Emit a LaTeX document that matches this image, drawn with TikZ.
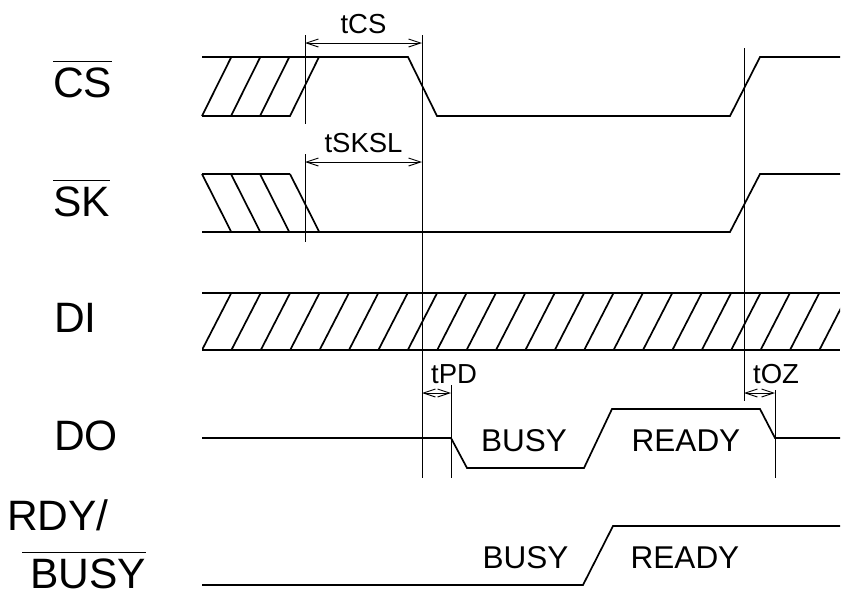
\documentclass[tikz,border=0pt]{standalone}
\usepackage{fontspec}
\setmainfont{Liberation Sans}
\usetikzlibrary{arrows.meta}
\newcommand{\olbar}[2][0pt]{$\overline{\mbox{\hspace{#1}\rule{0pt}{0.8em}#2}}$}
\tikzset{
  sig/.style={line width=1.7pt},
  guide/.style={line width=0.9pt},
  dim/.style={guide, {Straight Barb[length=12pt,width=8pt]}-{Straight Barb[length=12pt,width=8pt]}},
  lbl/.style={anchor=base west, inner sep=0pt, font=\fontsize{42.5}{42.5}\selectfont},
  tlbl/.style={inner sep=0pt, font=\fontsize{27.5}{27.5}\selectfont},
  state/.style={anchor=base, inner sep=0pt, font=\fontsize{31.5}{31.5}\selectfont}
}
\begin{document}
\begin{tikzpicture}[x=1pt,y=-1pt]
  \useasboundingbox (0,0) rectangle (844,598);
  \path
    (53,97)  node[lbl] (cs) {\olbar{CS}}
    (53,216) node[lbl] (sk) {\olbar{SK}}
    (54,332) node[lbl] (di) {DI}
    (54,450) node[lbl] (do) {DO}
    (7,530)  node[lbl] (rdy) {RDY/}
    (22,588) node[lbl] (busy) {\olbar[8pt]{BUSY}};

  % CS
  \draw[sig] (202,57) -- (408,57) -- (437,116) -- (730,116) -- (760,57) -- (840,57);
  \draw[sig] (202,116) -- (290,116) -- (319,57);
  \foreach \x in {202,231,260} \draw[sig] (\x,116) -- (\x+29.3,57);

  % SK
  \draw[sig] (202,174) -- (290,174);
  \draw[sig] (202,232) -- (730,232) -- (760,174) -- (840,174);
  \foreach \x in {202,231,260,290} \draw[sig] (\x,174) -- (\x+29.3,232);

  % DI
  \draw[sig] (202,293) -- (840,293) (202,350) -- (840,350);
  \begin{scope}
    \clip (202,280) rectangle (840,360);
    \foreach \k in {0,...,21} \draw[sig] (202+29.4*\k,350) -- (231.3+29.4*\k,293);
  \end{scope}

  % DO
  \draw[sig] (202,438) -- (451,438) -- (467,468) -- (584,468) -- (612,409)
    -- (760,409) -- (775,438) -- (840,438);
  \path (524,451.5) node[state] (dobusy) {BUSY}
        (686,451.5) node[state] (doready) {READY};

  % RDY/BUSY
  \draw[sig] (202,585) -- (583,585) -- (613,526) -- (840,526);
  \path (525.5,568.5) node[state] (rbbusy) {BUSY}
        (685,568.5) node[state] (rbready) {READY};

  % timing marks
  \draw[guide] (305,35) -- (305,124) (305,154) -- (305,242);
  \draw[guide] (422,35) -- (422,478);
  \draw[guide] (451,385) -- (451,478);
  \draw[guide] (744,48) -- (744,401);
  \draw[guide] (775,390) -- (775,478);

  \coordinate (cs1) at (305,43);   \coordinate (cs2) at (422,43);
  \coordinate (sl1) at (305,162);  \coordinate (sl2) at (422,162);
  \coordinate (pd1) at (422,393);  \coordinate (pd2) at (451,393);
  \coordinate (oz1) at (744,393);  \coordinate (oz2) at (775,393);

  \draw[dim] (cs1) -- (cs2);
  \draw[dim] (sl1) -- (sl2);
  \draw[dim] (pd1) -- (pd2);
  \draw[dim] (oz1) -- (oz2);

  \path (363.5,33)  node[tlbl, anchor=base] (tcs) {tCS}
        (363.5,152) node[tlbl, anchor=base] (tsksl) {tSKSL}
        (431,383)   node[tlbl, anchor=base west] (tpd) {tPD}
        (753,383)   node[tlbl, anchor=base west] (toz) {tOZ};
\end{tikzpicture}
\end{document}
